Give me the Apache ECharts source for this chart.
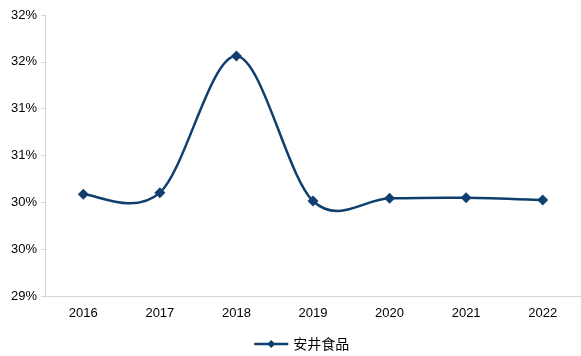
<!DOCTYPE html>
<html><head><meta charset="utf-8">
<script src="https://cdn.jsdelivr.net/npm/echarts@6/dist/echarts.min.js"></script>
<style>html,body{margin:0;padding:0;background:#fff}#c{width:581px;height:356px}</style>
</head><body><div id="c"></div>
<script>
const categories = ['2016','2017','2018','2019','2020','2021','2022'];
const seriesName = '安井食品';
const values = [30.086, 30.103, 31.562, 30.014, 30.043, 30.049, 30.025];
const yTicks = {min: 29, max: 32, step: 0.5};

const COLOR = '#0e3f6f';
const chart = echarts.init(document.getElementById('c'));

// Catmull-Rom smoothing (like the spreadsheet's smoothed line), drawn through the axis scales
function renderSeg(params, api) {
  const i = params.dataIndex;
  if (i >= values.length - 1) return null;
  const P = k => {
    const j = Math.max(0, Math.min(values.length - 1, k));
    return api.coord([j, values[j]]);
  };
  const p0 = P(i - 1), p1 = P(i), p2 = P(i + 1), p3 = P(i + 2);
  const c1 = [p1[0] + (p2[0] - p0[0]) / 6, p1[1] + (p2[1] - p0[1]) / 6];
  const c2 = [p2[0] - (p3[0] - p1[0]) / 6, p2[1] - (p3[1] - p1[1]) / 6];
  return {
    type: 'bezierCurve',
    shape: {x1: p1[0], y1: p1[1], x2: p2[0], y2: p2[1], cpx1: c1[0], cpy1: c1[1], cpx2: c2[0], cpy2: c2[1]},
    style: {stroke: COLOR, lineWidth: 2.5, fill: null, lineCap: 'round'},
    silent: true
  };
}

chart.setOption({
  animation: false,
  grid: {left: 45, right: 0, top: 15, bottom: 60},
  legend: {
    bottom: 0, left: 248,
    itemWidth: 34, itemHeight: 10, itemGap: 10,
    textStyle: {fontFamily: 'Noto Sans CJK SC', fontSize: 14, color: '#000'},
    lineStyle: {opacity: 1, width: 2.5, color: COLOR},
    data: [seriesName]
  },
  xAxis: {
    type: 'category', data: categories, boundaryGap: true,
    axisLine: {lineStyle: {color: '#d6d6d6'}},
    axisTick: {show: false},
    axisLabel: {color: '#000', fontFamily: 'Liberation Sans', fontSize: 13, margin: 11}
  },
  yAxis: {
    type: 'value', min: yTicks.min, max: yTicks.max, interval: yTicks.step,
    axisLine: {show: true, lineStyle: {color: '#d6d6d6'}},
    axisTick: {show: true, length: 4, lineStyle: {color: '#d6d6d6'}},
    splitLine: {show: false},
    axisLabel: {color: '#000', fontFamily: 'Liberation Sans', fontSize: 13, margin: 8,
      formatter: v => Math.round(v) + '%'}
  },
  series: [{
    name: seriesName + '_curve', type: 'custom',
    data: values.map((v, i) => [i, v]),
    renderItem: renderSeg, z: 2, silent: true
  }, {
    name: seriesName, type: 'line', data: values,
    symbol: 'diamond', symbolSize: 11,
    lineStyle: {opacity: 0, color: COLOR, width: 2.5},
    itemStyle: {color: COLOR}, z: 3
  }]
});
</script></body></html>
